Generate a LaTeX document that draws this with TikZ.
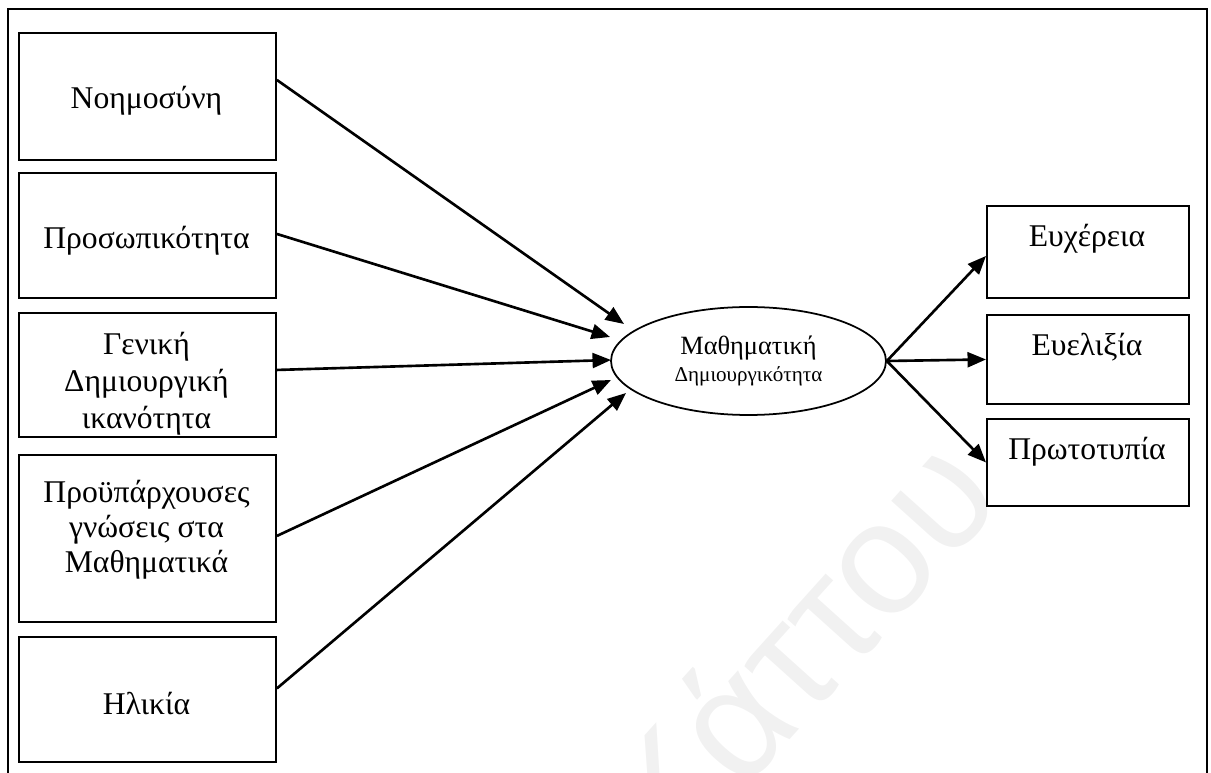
\documentclass[tikz,border=0pt]{standalone}
\usepackage{fontspec}
\setmainfont{Liberation Serif}
\newfontfamily\wmfont{Liberation Sans}
\usetikzlibrary{arrows.meta,shapes.geometric}
\definecolor{wmgray}{RGB}{241,241,241}
\begin{document}
\begin{tikzpicture}[x=0.02cm,y=-0.02cm,
  box/.style={draw, line width=1.1pt, rectangle, anchor=north west, inner sep=0pt},
  lbox/.style={box, minimum width=5.14cm},
  rbox/.style={box, minimum width=4.04cm},
  lbl/.style={anchor=base, inner sep=0pt, font=\fontsize{18}{21}\selectfont},
  link/.style={line width=1.5pt, -{Triangle[length=10.5pt,width=8.5pt]}},
  wm/.style={text=wmgray, inner sep=0pt, font=\wmfont\fontsize{91}{100}\selectfont},
]
\useasboundingbox (0,0) rectangle (1211,773);
\clip (0,0) rectangle (1211,773);

% faint watermark behind everything
\node[wm, rotate=48, anchor=base east] (wmark) at (1006,500) {Κάττου};

% outer frame, open at the bottom
\draw[line width=1.3pt] (8,800) |- (1207,9) -- (1207,800);

% left column of factors
\node[lbox, minimum height=2.54cm] (b1) at (18,32) {};
\node[lbox, minimum height=2.50cm] (b2) at (18,172) {};
\node[lbox, minimum height=2.48cm] (b3) at (18,312) {};
\node[lbox, minimum height=3.34cm] (b4) at (18,454) {};
\node[lbox, minimum height=2.50cm] (b5) at (18,636) {};

\node[lbl] (l1) at (146.5,109) {Νοημοσύνη};
\node[lbl] (l2) at (146.5,249) {Προσωπικότητα};
\node[lbl] (l3a) at (146.5,355) {Γενική};
\node[lbl] (l3b) at (146.5,392) {Δημιουργική};
\node[lbl] (l3c) at (146.5,429) {ικανότητα};
\node[lbl] (l4a) at (146.5,502) {Προϋπάρχουσες};
\node[lbl] (l4b) at (146.5,537.5) {γνώσεις στα};
\node[lbl] (l4c) at (146.5,573) {Μαθηματικά};
\node[lbl] (l5) at (146.5,714) {Ηλικία};

% central construct
\node[ellipse, draw, line width=1pt, minimum width=5.5cm, minimum height=2.16cm, inner sep=0pt] (ell) at (748.5,361) {};
\node[anchor=base, inner sep=0pt, font=\fontsize{15}{18}\selectfont] (m1) at (748.5,355) {Μαθηματική};
\node[anchor=base, inner sep=0pt, font=\fontsize{12}{14}\selectfont] (m2) at (748.5,382) {Δημιουργικότητα};

% right column of components
\node[rbox, minimum height=1.84cm] (r1) at (986,205) {};
\node[rbox, minimum height=1.78cm] (r2) at (986,314) {};
\node[rbox, minimum height=1.74cm] (r3) at (986,418) {};

\node[lbl] (q1) at (1087,247) {Ευχέρεια};
\node[lbl] (q2) at (1087,356) {Ευελιξία};
\node[lbl] (q3) at (1087,460) {Πρωτοτυπία};

% arrow heads stop just short of the ellipse
\coordinate (t1) at (624,324);
\coordinate (t2) at (610,337);
\coordinate (t3) at (611,360);
\coordinate (t4) at (611,380);
\coordinate (t5) at (626,393);

\draw[link] ([yshift=0.33cm]b1.east) -- (t1);
\draw[link] ([yshift=0.03cm]b2.east) -- (t2);
\draw[link] ([yshift=0.10cm]b3.east) -- (t3);
\draw[link] ([yshift=0.05cm]b4.east) -- (t4);
\draw[link] ([yshift=0.22cm]b5.east) -- (t5);

\draw[link] (ell.east) -- ([yshift=-0.08cm]r1.west);
\draw[link] (ell.east) -- (r2.west);
\draw[link] (ell.east) -- (r3.west);
\end{tikzpicture}
\end{document}
